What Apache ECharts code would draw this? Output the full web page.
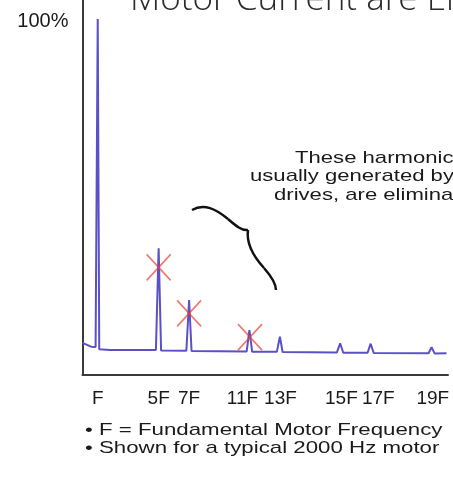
<!DOCTYPE html>
<html>
<head>
<meta charset="utf-8">
<script src="https://cdn.jsdelivr.net/npm/echarts@6/dist/echarts.min.js"></script>
<style>html,body{margin:0;padding:0;background:#fff}#c{width:453px;height:481px}</style>
</head>
<body>
<div id="c"></div>
<script>
// Harmonic slots on the (schematic) frequency axis and their labels
const harmonicSlots = [1, 3, 4, 6, 7, 9, 10, 12];
const harmonicLabels = ['F', '5F', '7F', '11F', '13F', '15F', '17F', '19F'];

// Spectrum trace: [slot, % of fundamental]
const spectrumX = [0.5, 0.78, 0.93, 1.0, 1.05, 1.4, 2.91, 3.0, 3.08, 3.91, 4.0, 4.08,
  5.89, 5.98, 6.07, 6.88, 6.98, 7.07, 8.85, 8.96, 9.06, 9.86, 9.96, 10.06, 11.86, 11.96, 12.06, 12.45];
const spectrumY = [9.1, 8.0, 7.9, 100.6, 7.3, 7.1, 7.05, 35.8, 6.9, 6.85, 21.2, 6.8,
  6.65, 12.7, 6.6, 6.55, 10.8, 6.5, 6.35, 8.96, 6.3, 6.3, 8.85, 6.25, 6.15, 7.85, 6.1, 6.15];

// Harmonics eliminated (red crosses): slot and level
const crossSlots = [3, 4, 6];
const crossLevels = [30.4, 17.4, 10.7];

// Y-axis tick label values
const yTicks = [100];

const chart = echarts.init(document.getElementById('c'), null, {renderer: 'canvas'});
const labelMap = {};
harmonicSlots.forEach((s, i) => labelMap[s] = harmonicLabels[i]);

const FONT = '"Liberation Sans", Arial, sans-serif';
const braceStyle = {stroke: '#111', lineWidth: 2.5, fill: null};
const noteFont = '17px "Liberation Sans", Arial, sans-serif';

chart.setOption({
  animation: false,
  backgroundColor: '#ffffff',
  grid: {left: 82.5, right: 5, top: 0, bottom: 106, containLabel: false, outerBoundsMode: 'none'},
  xAxis: {
    type: 'value', min: 0.5, max: 12.5,
    axisLine: {show: true, lineStyle: {color: '#3a3a3a', width: 2}},
    axisTick: {show: false},
    splitLine: {show: false},
    axisLabel: {
      customValues: harmonicSlots,
      formatter: v => {
        const t = labelMap[v] || '';
        if (t === '11F') return '{l|' + t + '}';
        if (t === '17F') return '{r|' + t + '}';
        return t;
      },
      rich: {
        l: {padding: [0, 15, 0, 0], fontFamily: FONT, fontSize: 19, color: '#1a1a1a'},
        r: {padding: [0, 0, 0, 13], fontFamily: FONT, fontSize: 19, color: '#1a1a1a'}
      },
      fontFamily: FONT, fontSize: 19, color: '#1a1a1a', margin: 14
    }
  },
  yAxis: {
    type: 'value', min: 0, max: 106,
    axisLine: {show: true, lineStyle: {color: '#3a3a3a', width: 2}},
    axisTick: {show: false},
    splitLine: {show: false},
    axisLabel: {
      customValues: yTicks,
      formatter: '{value}%',
      fontFamily: FONT, fontSize: 20, color: '#1a1a1a', margin: 14,
      padding: [4, 0, 0, 0]
    }
  },
  series: [
    {
      type: 'line',
      data: spectrumX.map((x, i) => [x, spectrumY[i]]),
      showSymbol: false,
      lineStyle: {color: '#5a50c8', width: 2},
      z: 2
    },
    {
      type: 'scatter',
      data: crossSlots.map((x, i) => [x, crossLevels[i]]),
      symbol: 'path://M0,0L24,26M24,0L0,26',
      symbolSize: [24, 26],
      itemStyle: {color: 'rgba(0,0,0,0)', borderColor: 'rgba(232,60,50,0.85)', borderWidth: 1.8},
      z: 3
    }
  ],
  graphic: [
    {type: 'text', x: 130, y: 17, scaleX: 1.03, style: {text: 'Motor Current are Eliminated', font: '300 34px "Open Sans", "Liberation Sans", sans-serif', fill: '#2a2a2a', verticalAlign: 'bottom'}},
    {type: 'text', x: 295, y: 158, scaleX: 1.3, style: {text: 'These harmonics,', font: noteFont, fill: '#1a1a1a', verticalAlign: 'middle'}},
    {type: 'text', x: 250, y: 176.5, scaleX: 1.3, style: {text: 'usually generated by', font: noteFont, fill: '#1a1a1a', verticalAlign: 'middle'}},
    {type: 'text', x: 274, y: 195, scaleX: 1.3, style: {text: 'drives, are eliminated', font: noteFont, fill: '#1a1a1a', verticalAlign: 'middle'}},
    {type: 'bezierCurve', shape: {x1: 192, y1: 210, cpx1: 204, cpy1: 203, cpx2: 216, cpy2: 209, x2: 228, y2: 219}, style: braceStyle},
    {type: 'bezierCurve', shape: {x1: 228, y1: 219, cpx1: 236, cpy1: 226, cpx2: 242, cpy2: 231, x2: 248, y2: 230}, style: braceStyle},
    {type: 'bezierCurve', shape: {x1: 248, y1: 230, cpx1: 246, cpy1: 244, cpx2: 254, cpy2: 257, x2: 264, y2: 268}, style: braceStyle},
    {type: 'bezierCurve', shape: {x1: 264, y1: 268, cpx1: 271, cpy1: 276, cpx2: 276, cpy2: 283, x2: 276, y2: 290}, style: braceStyle},
    {type: 'text', x: 85, y: 430, scaleX: 1.31, style: {text: '\u2022 F = Fundamental Motor Frequency', font: noteFont, fill: '#1a1a1a', verticalAlign: 'middle'}},
    {type: 'text', x: 85, y: 448.5, scaleX: 1.31, style: {text: '\u2022 Shown for a typical 2000 Hz motor', font: noteFont, fill: '#1a1a1a', verticalAlign: 'middle'}}
  ]
});
</script>
</body>
</html>
